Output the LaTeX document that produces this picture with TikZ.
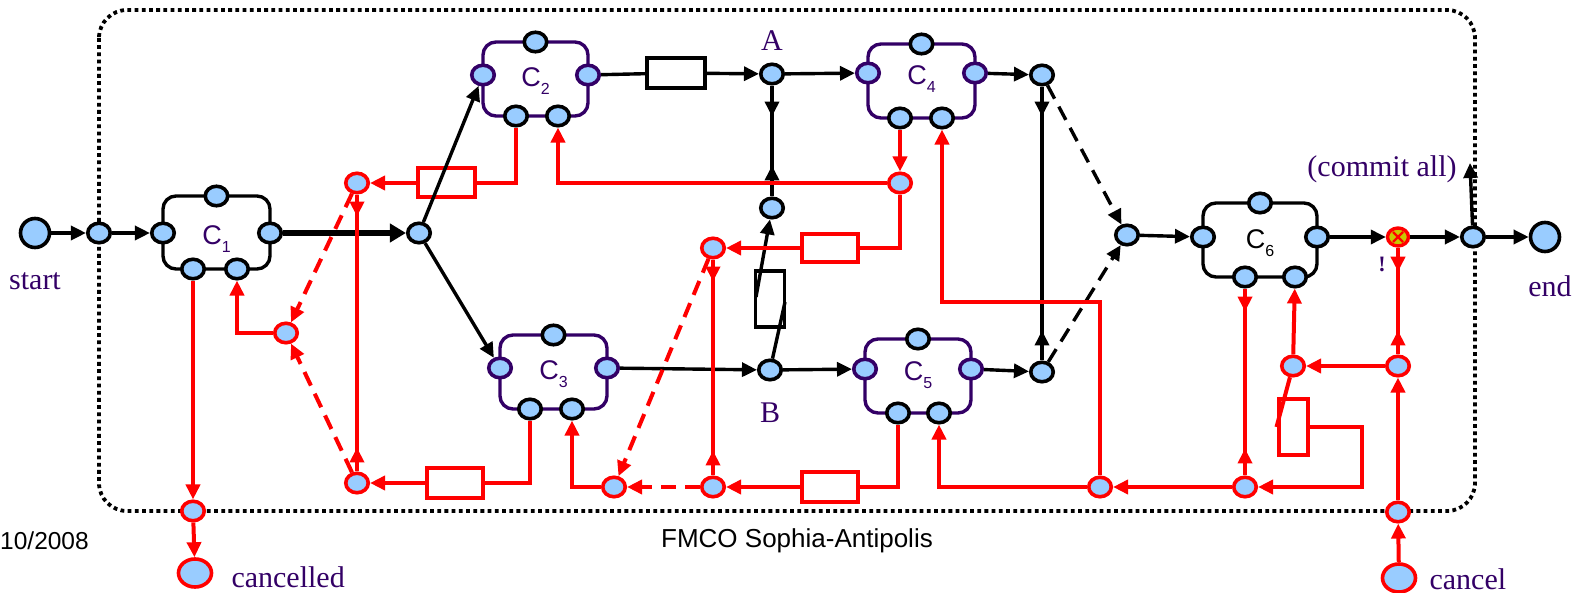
\documentclass[tikz,border=0pt]{standalone}
\usepackage{fontspec}
\setmainfont{Liberation Serif}
\setsansfont{Liberation Sans}
\usetikzlibrary{arrows.meta,shapes.geometric,decorations.markings,calc}
\definecolor{purp}{HTML}{330066}
\definecolor{portblue}{HTML}{99CCFF}
\definecolor{xyellow}{HTML}{C8C800}
\newcommand\sub[1]{\raisebox{-0.3em}{\fontsize{16}{16}\selectfont #1}}
\newcommand\chw{53.5}
\newcommand\mkcomp[9]{%
  \draw[compbox,draw=#8] (#2-\chw,#4) rectangle (#2+\chw,#5);
  \node[port,draw=#8] (#1l) at (#2-\chw,#3) {};
  \node[port,draw=#8] (#1r) at (#2+\chw,#3) {};
  \node[port] (#1t) at (#2,#4) {};
  \node[port] (#1a) at (#6,#5) {};
  \node[port] (#1b) at (#7,#5) {};
  \node[clabel] (#1n) at (#2,#3+6) {#9};
}
\begin{document}
\begin{tikzpicture}[x=1pt,y=-1pt,
  >={Triangle[length=15pt,width=14pt]},
  port/.style={ellipse,draw=black,fill=portblue,line width=3.6pt,minimum width=22.5pt,minimum height=19.5pt,inner sep=0pt},
  rport/.style={port,draw=red},
  bigc/.style={circle,draw=black,fill=portblue,line width=3.6pt,minimum size=29pt,inner sep=0pt},
  xnode/.style={ellipse,draw=red,fill=xyellow,line width=3.4pt,minimum width=21pt,minimum height=18pt,inner sep=0pt},
  compbox/.style={line width=3.4pt,rounded corners=13pt},
  bl/.style={line width=3.4pt,draw=black},
  rd/.style={line width=4pt,draw=red},
  bbox/.style={draw=black,line width=3.4pt,inner sep=0pt},
  rbox/.style={draw=red,line width=4pt,inner sep=0pt},
  dsh/.style={dash pattern=on 15pt off 9pt},
  lbl/.style={font=\fontsize{30}{32}\selectfont,text=purp},
  clabel/.style={font=\sffamily\fontsize{27}{28}\selectfont},
  foot/.style={font=\sffamily\fontsize{26}{28}\selectfont},
  twoway/.style 2 args={postaction={decorate,decoration={markings,
      mark=at position #1 with {\arrow{>}},
      mark=at position -#2 with {\arrowreversed{>}}}}}
]
\useasboundingbox (0,0) rectangle (1575,593);

% frame
\draw[black,line width=3.8pt,dash pattern=on 3.8pt off 3.4pt,rounded corners=28pt] (99,10) rectangle (1475,511);

% components
\mkcomp{c1}{216.5}{233}{196}{269}{193}{237}{black}{\textcolor{purp}{C\sub1}}
\renewcommand\chw{52.5}
\mkcomp{c2}{535.5}{75}{42}{116}{516}{558}{purp}{\textcolor{purp}{C\sub2}}
\renewcommand\chw{53.5}
\mkcomp{c3}{553.5}{368}{335}{409}{530}{572}{purp}{\textcolor{purp}{C\sub3}}
\mkcomp{c4}{921.5}{73}{44}{118}{900}{942}{purp}{\textcolor{purp}{C\sub4}}
\renewcommand\chw{53}
\mkcomp{c5}{918}{369}{339}{413}{898}{939}{purp}{\textcolor{purp}{C\sub5}}
\renewcommand\chw{57}
\mkcomp{c6}{1260}{237}{203}{277}{1245}{1295}{black}{C\sub6}

% black nodes
\node[bigc] (start) at (35,233) {};
\node[port] (n0) at (99,233) {};
\node[port] (j1) at (419,233) {};
\node[port] (A) at (772,74) {};
\node[port] (n1) at (772,208) {};
\node[port] (B) at (770,370) {};
\node[port] (D) at (1042,75) {};
\node[port] (E) at (1042,372) {};
\node[port] (F) at (1127,235) {};
\node[port] (M) at (1473,237) {};
\node[bigc] (endn) at (1545,237) {};
\node[xnode] (X) at (1398,237) {};
\draw[red,line width=2.4pt] ($(X)+(-5,-5)$) -- ($(X)+(5,5)$) ($(X)+(-5,5)$) -- ($(X)+(5,-5)$);
\node[bbox,minimum width=58pt,minimum height=30pt] (R1) at (676,73) {};
\node[bbox,minimum width=29pt,minimum height=56pt] (R2) at (770,299) {};

% red nodes
\node[rport] (r1) at (357,183) {};
\node[rport] (r2) at (286,333) {};
\node[rport] (r3) at (357,483) {};
\node[rport] (r4) at (900,183) {};
\node[rport] (r5) at (713,248) {};
\node[rport] (r6) at (614,487) {};
\node[rport] (r7) at (713,487) {};
\node[rport] (G) at (1100,487) {};
\node[rport] (H) at (1245,487) {};
\node[rport] (I) at (1293,366) {};
\node[rport] (K) at (1398,366) {};
\node[rport] (L) at (1398,512) {};
\node[rport] (rc) at (193,511) {};
\node[rport,minimum width=33pt,minimum height=28pt] (cancelled) at (195,573) {};
\node[rport,minimum width=33pt,minimum height=28pt] (cancel) at (1399,578) {};
\node[rbox,minimum width=57pt,minimum height=29pt] (q1) at (446,183) {};
\node[rbox,minimum width=56pt,minimum height=29pt] (q2) at (455,483) {};
\node[rbox,minimum width=56pt,minimum height=28pt] (q3) at (830,248) {};
\node[rbox,minimum width=56pt,minimum height=29pt] (q4) at (830,487) {};
\node[rbox,minimum width=29pt,minimum height=56pt] (q5) at (1293,427) {};

% black connectors
\draw[bl,->] (start) -- (n0);
\draw[bl,->] (n0) -- (c1l);
\draw[black,line width=6.5pt,-{Triangle[length=16pt,width=18pt]}] (c1r) -- (j1);
\draw[bl,->] (j1) -- (c2l);
\draw[bl,->] (j1) -- (c3l);
\draw[bl] (c2r) -- (R1);
\draw[bl,->] (R1) -- (A);
\draw[bl,->] (A) -- (c4l);
\draw[bl,twoway={31pt}{31pt}] (A) -- (n1);
\draw[bl,->] (c3r) -- (B);
\draw[bl,->] (B) -- (c5l);
\coordinate (k1) at (785,302);
\coordinate (k2) at (756,297);
\draw[bl] (B) -- (k1);
\draw[bl,->] (k2) -- (n1);
\draw[bl,->] (c4r) -- (D);
\draw[bl,->] (c5r) -- (E);
\draw[bl,twoway={30pt}{30pt}] (D) -- (E);
\draw[bl,dsh,->] (D) -- (F);
\draw[bl,dsh,->] (E) -- (F);
\draw[bl,->] (F) -- (c6l);
\draw[bl,->] (c6r) -- (X);
\draw[bl,->] (X) -- (M);
\draw[bl,->] (M) -- (endn);
\coordinate (commit) at (1470,163);
\draw[bl,->] (M) -- (commit);

% red connectors
\draw[rd,->] (c1a) -- (rc);
\draw[rd,->] (rc) -- (cancelled);
\draw[rd,->] (r2) -| (c1b);
\draw[rd,dsh,->] (r1) -- (r2);
\draw[rd,dsh,->] (r3) -- (r2);
\draw[rd,twoway={22pt}{24pt}] (r1) -- (r3);
\draw[rd] (c2a) |- (q1.east);
\draw[rd,->] (q1) -- (r1);
\draw[rd,->] (r4) -| (c2b);
\draw[rd,->] (c4a) -- (r4);
\draw[rd] (r4) |- (q3.east);
\draw[rd,->] (q3) -- (r5);
\draw[rd,twoway={22pt}{25pt}] (r5) -- (r7);
\draw[rd,dsh,->] (r5) -- (r6);
\draw[rd,dsh,->] (r7) -- (r6);
\draw[rd,->] (r6) -| (c3b);
\draw[rd] (c3a) |- (q2.east);
\draw[rd,->] (q2) -- (r3);
\draw[rd] (c5a) |- (q4.east);
\draw[rd,->] (q4) -- (r7);
\draw[rd,->] (G) -| (c5b);
\coordinate (g1) at (942,302);
\draw[rd,->] (G) |- (g1) -- (c4b);
\draw[rd,->] (H) -- (G);
\draw[rd,twoway={23pt}{27pt}] (c6a) -- (H);
\coordinate (h1) at (1362,427);
\draw[rd,->] (q5.east) -- (h1) |- (H);
\draw[rd] (I) -- (q5.west);
\draw[rd,->] (I) -- (c6b);
\draw[rd,->] (K) -- (I);
\draw[rd,twoway={24pt}{24pt}] (X) -- (K);
\draw[rd,->] (L) -- (K);
\draw[rd,->] (cancel) -- (L);

% labels
\node[lbl] (tstart) at (35,281) {start};
\node[lbl] (tA) at (772,41) {A};
\node[lbl] (tB) at (770,413) {B};
\node[lbl] (tend) at (1550,286) {end};
\node[lbl,anchor=west] (tcancelled) at (228,577) {cancelled};
\node[lbl,anchor=west] (tcancel) at (1426,579) {cancel};
\node[lbl] (tcommit) at (1382,169) {(commit all)};
\node[text=purp,font=\bfseries\fontsize{22}{22}\selectfont] (bang) at (1382,264) {!};
\node[foot,anchor=west,font=\sffamily\fontsize{24.5}{26}\selectfont,inner sep=0pt] (tdate) at (0,541) {10/2008};
\node[foot] (tfmco) at (797,541) {FMCO Sophia-Antipolis};
\end{tikzpicture}
\end{document}
